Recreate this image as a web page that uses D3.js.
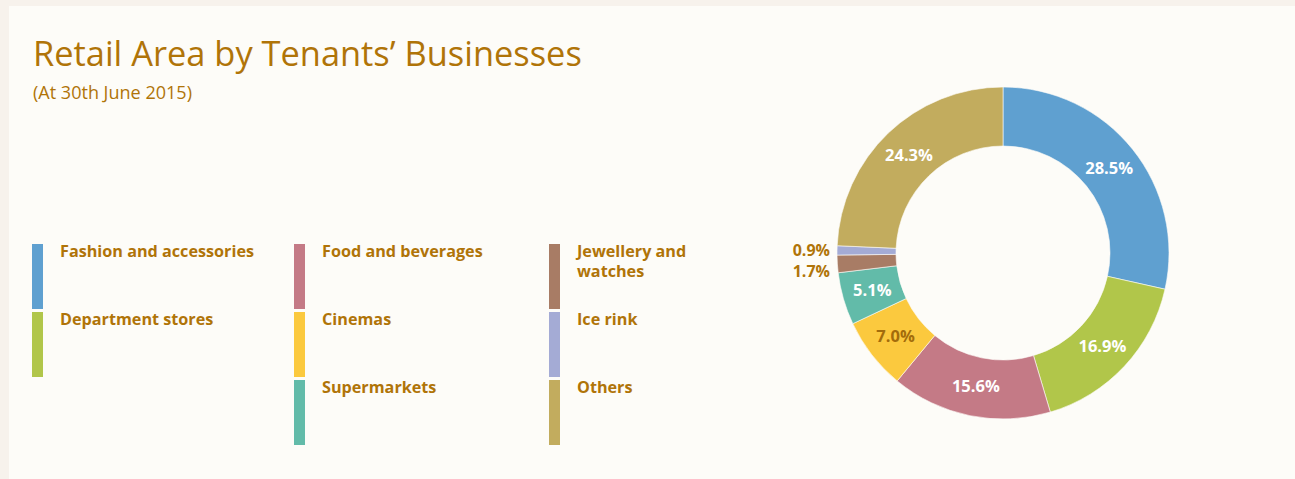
<!DOCTYPE html>
<html>
<head>
<meta charset="utf-8">
<script src="https://cdn.jsdelivr.net/npm/d3@7"></script>
<style>
  html, body { margin: 0; padding: 0; background: #f7f2ec; }
  svg { display: block; }
</style>
</head>
<body>
<svg id="chart" width="1295" height="479"></svg>
<script>
// ---- data ----
const categories = ["Fashion and accessories", "Department stores", "Food and beverages", "Cinemas",
                    "Supermarkets", "Jewellery and watches", "Ice rink", "Others"];
const values = [28.5, 16.9, 15.6, 7.0, 5.1, 1.7, 0.9, 24.3];
const colors = ["#5fa0d0", "#b1c64a", "#c47a86", "#fbc93e", "#62bba9", "#a87c65", "#a4abd5", "#c2ac5e"];
const legendLines = [["Fashion and accessories"], ["Department stores"], ["Food and beverages"], ["Cinemas"],
                     ["Supermarkets"], ["Jewellery and", "watches"], ["Ice rink"], ["Others"]];
const legendColumns = [[0, 1], [2, 3, 4], [5, 6, 7]];
const labelColors = ["#ffffff", "#ffffff", "#ffffff", "#a36c0b", "#ffffff", "#b07408", "#b07408", "#ffffff"];
const outsideLabel = [false, false, false, false, false, true, true, false];
const title = "Retail Area by Tenants\u2019 Businesses";
const subtitle = "(At 30th June 2015)";

const gold = "#b07408";
const FONT = "'Open Sans', 'Noto Sans', sans-serif";

const svg = d3.select("#chart");
// panel
svg.append("rect").attr("x", 9).attr("y", 6).attr("width", 1295 - 9).attr("height", 479 - 6).attr("fill", "#fdfcf8");

function fitText(sel, targetWidth) {
  const base = parseFloat(sel.attr("font-size"));
  const w = sel.node().getComputedTextLength();
  sel.attr("font-size", (base * targetWidth / w).toFixed(2));
}

const t = svg.append("text").attr("x", 33).attr("y", 66).attr("fill", gold)
  .attr("font-family", FONT).attr("font-size", 34).text(title);
fitText(t, 549);
const st = svg.append("text").attr("x", 33).attr("y", 99).attr("fill", gold)
  .attr("font-family", FONT).attr("font-size", 17).text(subtitle);
fitText(st, 159);

// legend
const colX = [32, 294, 549];
const rowY = d3.scaleLinear().domain([0, 1]).range([244, 312]);
const probe = svg.append("text").attr("font-family", FONT).attr("font-weight", 700)
  .attr("font-size", 16).text(legendLines[0][0]);
const legendFont = 16 * 194 / probe.node().getComputedTextLength();
probe.remove();

legendColumns.forEach((col, ci) => {
  col.forEach((idx, ri) => {
    const g = svg.append("g").attr("transform", `translate(${colX[ci]},${rowY(ri)})`);
    g.append("rect").attr("width", 11).attr("height", 65).attr("fill", colors[idx]);
    const tx = g.append("text").attr("x", 28).attr("y", 13).attr("fill", gold)
      .attr("font-family", FONT).attr("font-weight", 700).attr("font-size", legendFont.toFixed(2));
    legendLines[idx].forEach((line, li) => {
      tx.append("tspan").attr("x", 28).attr("y", 13 + li * 20).text(line);
    });
  });
});

// donut
const cx = 1003, cy = 253, rOuter = 166, rInner = 107;
const pie = d3.pie().sort(null).value(d => d)(values);
const arc = d3.arc().innerRadius(rInner).outerRadius(rOuter);
const labelArc = d3.arc().innerRadius(136).outerRadius(136);
const g = svg.append("g").attr("transform", `translate(${cx},${cy})`);
g.selectAll("path.slice").data(pie).join("path").attr("class", "slice")
  .attr("d", arc).attr("fill", (d, i) => colors[i])
  .attr("stroke", "#fdfcf8").attr("stroke-width", 0.6);

const LABEL_FS = 16.5;
// inside labels
g.selectAll("text.in").data(pie.filter((d, i) => !outsideLabel[i])).join("text").attr("class", "in")
  .attr("transform", d => `translate(${labelArc.centroid(d)})`)
  .attr("text-anchor", "middle").attr("dy", "0.35em")
  .attr("font-family", FONT).attr("font-weight", 700).attr("font-size", LABEL_FS)
  .attr("fill", d => labelColors[d.index])
  .text(d => d3.format(".1f")(d.data) + "%");

// outside labels
const outs = pie.filter((d, i) => outsideLabel[i]).map(d => {
  const a = (d.startAngle + d.endAngle) / 2;
  return { d, y: -Math.cos(a) * rOuter, x: -rOuter - 7 };
}).sort((a, b) => a.y - b.y);
for (let i = 1; i < outs.length; i++) {
  if (outs[i].y - outs[i - 1].y < 21) outs[i].y = outs[i - 1].y + 21;
}
g.selectAll("text.out").data(outs).join("text").attr("class", "out")
  .attr("x", o => o.x).attr("y", o => o.y).attr("dy", "0.35em")
  .attr("text-anchor", "end")
  .attr("font-family", FONT).attr("font-weight", 700).attr("font-size", 16)
  .attr("fill", o => labelColors[o.d.index])
  .text(o => d3.format(".1f")(o.d.data) + "%");
</script>
</body>
</html>
